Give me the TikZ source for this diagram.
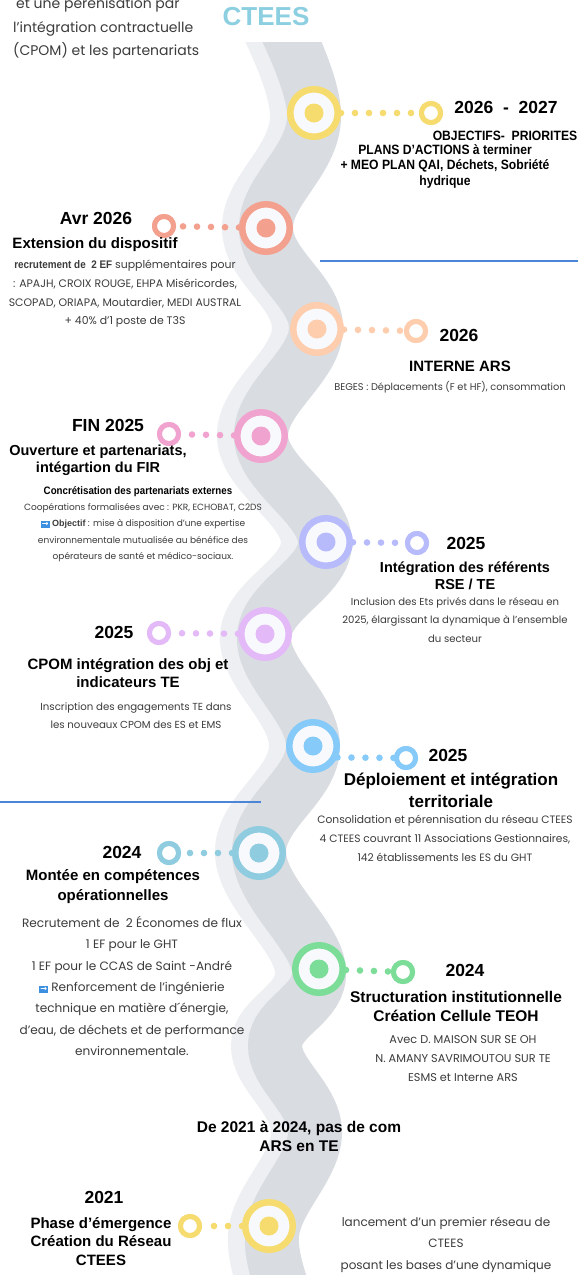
\documentclass[tikz,border=0pt]{standalone}
\usepackage{fontspec}
\setmainfont{Poppins}
\newfontfamily\hb{Liberation Sans}
\newfontfamily\nb[FakeStretch=0.9]{Liberation Sans}
\newfontfamily\dejavu{DejaVu Sans}
\definecolor{yellowc}{HTML}{F6DB6E}
\definecolor{salmonc}{HTML}{F3A08F}
\definecolor{peachc}{HTML}{FDCDAD}
\definecolor{pinkc}{HTML}{F1A3CF}
\definecolor{lavc}{HTML}{B7BBFB}
\definecolor{lilacc}{HTML}{E3BAF7}
\definecolor{lbluec}{HTML}{86CAF9}
\definecolor{tealc}{HTML}{8FCCE0}
\definecolor{greenc}{HTML}{7BDD98}
\definecolor{ringfill}{HTML}{F8F9FD}
\definecolor{banddark}{HTML}{D9DDE2}
\definecolor{bandlight}{HTML}{EDEFF2}
\definecolor{titleblue}{HTML}{8BCFE0}
\definecolor{bodygrey}{HTML}{3C3C3C}
\definecolor{lineblue}{HTML}{4A85D8}
\definecolor{arrowblue}{HTML}{3D8FE0}
\newcommand{\arrbox}{{\setlength{\fboxsep}{1pt}\colorbox{arrowblue}{\textcolor{white}{\dejavu\bfseries\fontsize{8}{8}\selectfont →}}}}
\tikzset{
  bigring/.style={circle, draw=#1, line width=6.5pt, fill=ringfill, minimum size=47.5pt, inner sep=0pt},
  smallring/.style={circle, draw=#1, line width=5pt, fill=white, minimum size=19pt, inner sep=0pt},
  dotline/.style={draw=#1, line width=6.6pt, line cap=round, dash pattern=on 0pt off 14pt},
  yr/.style={font=\hb\bfseries\fontsize{17.5}{20}\selectfont, text=black, inner sep=0pt},
  sub/.style={font=\hb\bfseries\fontsize{15}{18.5}\selectfont, align=center, text=black, inner sep=0pt},
  nbtxt/.style={font=\nb\bfseries\fontsize{13.5}{15.5}\selectfont, align=center, text=black, inner sep=0pt},
  bodytxt/.style={font=\fontsize{10}{18}\selectfont, align=center, text=bodygrey, inner sep=0pt},
  sepline/.style={draw=lineblue, line width=1.4pt}
}
\begin{document}
\begin{tikzpicture}[x=1pt,y=-1pt]
\useasboundingbox[fill=white] (0,0) rectangle (578,1275);
% winding band
\begin{scope}
\clip (0,42) rectangle (578,1275);
\draw[bandlight, line width=54pt, xshift=-17pt] plot[smooth, tension=0.65] coordinates {(255,-30) (314,113) (266,228) (316,329) (261,437) (325,542) (264,636) (313,747) (259,853) (319,970) (275,1045) (315,1133) (272,1235) (300,1330)};
\draw[banddark, line width=54pt] plot[smooth, tension=0.65] coordinates {(255,-30) (314,113) (266,228) (316,329) (261,437) (325,542) (264,636) (313,747) (259,853) (319,970) (275,1045) (315,1133) (272,1235) (300,1330)};
\end{scope}
% separator lines
\coordinate (l1a) at (320,261); \coordinate (l1b) at (578,261);
\coordinate (l2a) at (0,802); \coordinate (l2b) at (261,802);
\draw[sepline] (l1a) -- (l1b);
\draw[sepline] (l2a) -- (l2b);
% circles
\node[bigring=yellowc] (big1) at (314,113) {};
\node[smallring=yellowc] (small1) at (431,113) {};
\node[bigring=salmonc] (big2) at (266,228) {};
\node[smallring=salmonc] (small2) at (164,226) {};
\node[bigring=peachc] (big3) at (317,329) {};
\node[smallring=peachc] (small3) at (416,331) {};
\node[bigring=pinkc] (big4) at (261,436) {};
\node[smallring=pinkc] (small4) at (169,434) {};
\node[bigring=lavc] (big5) at (326,542) {};
\node[smallring=lavc] (small5) at (417,543) {};
\node[bigring=lilacc] (big6) at (265,634) {};
\node[smallring=lilacc] (small6) at (159,633) {};
\node[bigring=lbluec] (big7) at (313,746) {};
\node[smallring=lbluec] (small7) at (406,758) {};
\node[bigring=tealc] (big8) at (259,853) {};
\node[smallring=tealc] (small8) at (169,853) {};
\node[bigring=greenc] (big9) at (319,969) {};
\node[smallring=greenc] (small9) at (403,972) {};
\node[bigring=yellowc] (big10) at (269,1226) {};
\node[smallring=yellowc] (small10) at (190,1226) {};
% connectors
\draw[dotline=yellowc] (big1) -- (small1);
\draw[dotline=salmonc] (big2) -- (small2);
\draw[dotline=peachc] (big3) -- (small3);
\draw[dotline=pinkc] (big4) -- (small4);
\draw[dotline=lavc] (big5) -- (small5);
\draw[dotline=lilacc] (big6) -- (small6);
\draw[dotline=lbluec] (big7.-25) -- (small7);
\draw[dotline=tealc] (big8) -- (small8);
\draw[dotline=greenc] (big9) -- (small9);
\draw[dotline=yellowc] (big10) -- (small10);
% small rings on top of dots, inner dots of big rings
\foreach \n/\c in {1/yellowc,2/salmonc,3/peachc,4/pinkc,5/lavc,6/lilacc,7/lbluec,8/tealc,9/greenc,10/yellowc}{
  \draw[\c, line width=5pt, fill=white] (small\n.center) circle (9.5pt);
  \fill[\c] (big\n.center) circle (9.5pt);
}
% title and intro
\node[font=\hb\bfseries\fontsize{26}{26}\selectfont, text=titleblue, inner sep=0pt] (title) at (266,17) {CTEES};
\node[font=\fontsize{14}{23.5}\selectfont, align=left, anchor=west, text=bodygrey, inner sep=0pt] (intro) at (13,28.5) {\hspace*{3pt}et une pérénisation par\\l’intégration contractuelle\\(CPOM) et les partenariats};
% event 1
\node[yr] (y1) at (506,107) {2026 \ - \ 2027};
\node[nbtxt] (o1) at (505,136) {OBJECTIFS- \ PRIORITES};
\node[nbtxt] (p1) at (445,166) {PLANS D’ACTIONS à terminer\\+ MEO PLAN QAI, Déchets, Sobriété\\hydrique};
% event 2
\node[yr] (y2) at (96,218) {Avr 2026};
\node[sub] (s2) at (95,245) {Extension du dispositif};
\node[bodytxt, font=\fontsize{10.9}{18.7}\selectfont] (b2) at (125,294) {{\nb\bfseries\fontsize{11}{18.7}\selectfont recrutement de \ 2 EF} supplémentaires pour\\: APAJH, CROIX ROUGE, EHPA Miséricordes,\\SCOPAD, ORIAPA, Moutardier, MEDI AUSTRAL\\+ 40\% d’1 poste de T3S};
% event 3
\node[yr] (y3) at (459,335) {2026};
\node[sub] (s3) at (460,366) {INTERNE ARS};
\node[bodytxt, font=\fontsize{9.8}{18}\selectfont] (b3) at (450,387) {BEGES : Déplacements (F et HF), consommation};
% event 4
\node[yr] (y4) at (108,425) {FIN 2025};
\node[sub, font=\hb\bfseries\fontsize{14.5}{17.5}\selectfont] (s4) at (98,460.5) {Ouverture et partenariats,\\intégartion du FIR};
\node[nbtxt, font=\nb\bfseries\fontsize{10.8}{12}\selectfont] (c4) at (138,492) {Concrétisation des partenariats externes};
\node[bodytxt, font=\fontsize{9}{16.3}\selectfont] (b4) at (143,532.5) {Coopérations formalisées avec : PKR, ECHOBAT, C2DS\\\arrbox\ {\hb\bfseries Objectif} : mise à disposition d’une expertise\\environnementale mutualisée au bénéfice des\\opérateurs de santé et médico-sociaux.};
% event 5
\node[yr] (y5) at (466,543) {2025};
\node[sub, font=\hb\bfseries\fontsize{14.5}{17}\selectfont] (s5) at (465,575.5) {Intégration des référents\\RSE / TE};
\node[bodytxt, font=\fontsize{10.1}{18.5}\selectfont] (b5) at (455,620) {Inclusion des Ets privés dans le réseau en\\2025, élargissant la dynamique à l’ensemble\\du secteur};
% event 6
\node[yr] (y6) at (114,632) {2025};
\node[sub, font=\hb\bfseries\fontsize{15}{18}\selectfont] (s6) at (128,673) {CPOM intégration des obj et\\indicateurs TE};
\node[bodytxt, font=\fontsize{10.2}{18}\selectfont] (b6) at (136,716) {Inscription des engagements TE dans\\les nouveaux CPOM des ES et EMS};
% event 7
\node[yr] (y7) at (448,755) {2025};
\node[sub, font=\hb\bfseries\fontsize{17}{22}\selectfont] (s7) at (451,790) {Déploiement et intégration\\territoriale};
\node[bodytxt, font=\fontsize{10.7}{19}\selectfont] (b7) at (445,838) {Consolidation et pérennisation du réseau CTEES\\4 CTEES couvrant 11 Associations Gestionnaires,\\142 établissements les ES du GHT};
% event 8
\node[yr] (y8) at (122,852) {2024};
\node[sub, font=\hb\bfseries\fontsize{15}{20}\selectfont] (s8) at (113,887) {Montée en compétences\\opérationnelles};
\node[bodytxt, font=\fontsize{12.1}{21.3}\selectfont] (b8) at (132,986) {Recrutement de \ 2 Économes de flux\\1 EF pour le GHT\\1 EF pour le CCAS de Saint -André\\\arrbox\ Renforcement de l’ingénierie\\technique en matière d´énergie,\\d’eau, de déchets et de performance\\environnementale.};
% event 9
\node[yr] (y9) at (465,970) {2024};
\node[sub, font=\hb\bfseries\fontsize{15.5}{19}\selectfont] (s9) at (456,1006.5) {Structuration institutionnelle\\Création Cellule TEOH};
\node[bodytxt, font=\fontsize{11.3}{19}\selectfont] (b9) at (463,1059) {Avec D. MAISON SUR SE OH\\N. AMANY SAVRIMOUTOU SUR TE\\ESMS et Interne ARS};
% gap note
\node[sub, font=\hb\bfseries\fontsize{15.5}{19}\selectfont] (gap) at (299,1136.5) {De 2021 à 2024, pas de com\\ARS en TE};
% event 10
\node[yr] (y10) at (104,1197) {2021};
\node[sub, font=\hb\bfseries\fontsize{15}{18.5}\selectfont] (s10) at (101,1241.5) {Phase d’émergence\\Création du Réseau\\CTEES};
\node[bodytxt, font=\fontsize{12}{21.5}\selectfont] (b10) at (446,1244.5) {lancement d’un premier réseau de\\CTEES\\posant les bases d’une dynamique};
\end{tikzpicture}
\end{document}
